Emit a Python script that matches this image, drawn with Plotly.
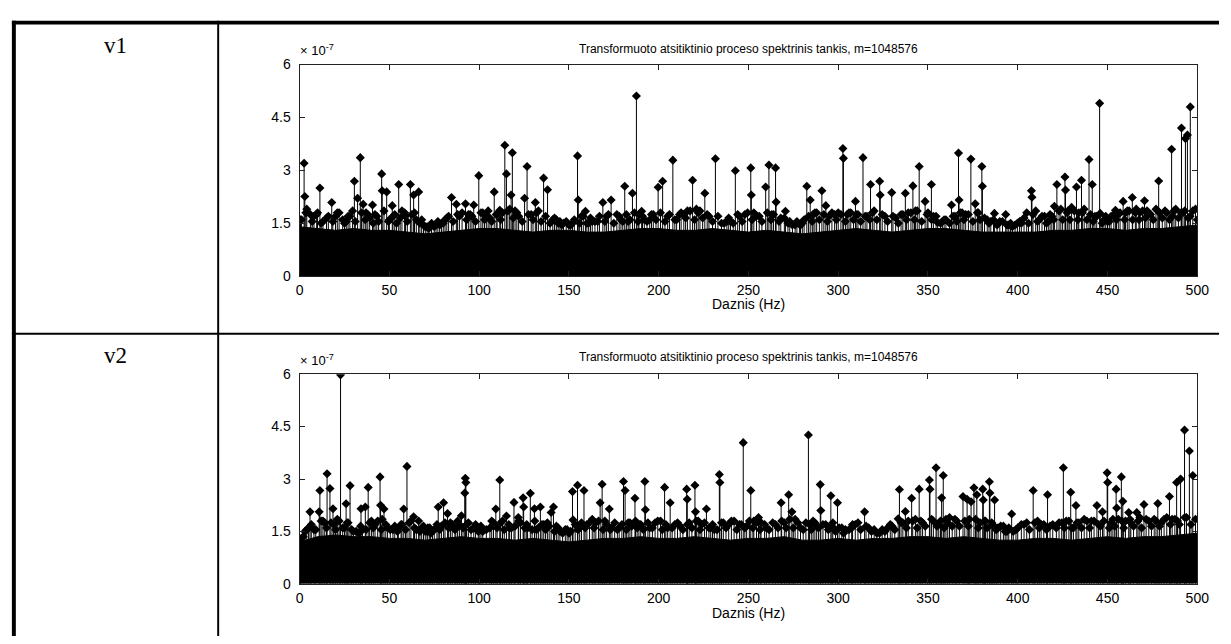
import plotly.graph_objects as go

W, H = 1231, 644

# Frequencies in Hz, spectral density values in units of 1e-7
X_TICKS = [0, 50, 100, 150, 200, 250, 300, 350, 400, 450, 500]
Y_TICKS = [0, 1.5, 3, 4.5, 6]
Y_TICK_TEXT = ["0", "1.5", "3", "4.5", "6"]
TITLE = "Transformuoto atsitiktinio proceso spektrinis tankis, m=1048576"
X_LABEL = "Daznis (Hz)"
ROW_LABELS = ["v1", "v2"]

# ---- v1 ----
v1_floor_hz = list(range(0, 501, 10))
v1_floor = [1.4, 1.35, 1.3, 1.35, 1.3, 1.3, 1.25, 1.2, 1.25, 1.3, 1.35, 1.35, 1.3, 1.25, 1.3,
            1.3, 1.25, 1.25, 1.3, 1.35, 1.35, 1.3, 1.3, 1.35, 1.3, 1.25, 1.3, 1.25, 1.2, 1.25,
            1.3, 1.35, 1.3, 1.25, 1.3, 1.35, 1.35, 1.3, 1.25, 1.25, 1.25, 1.25, 1.3, 1.3, 1.35,
            1.35, 1.3, 1.35, 1.35, 1.4, 1.45]

v1_low = [(0.5, 1.6), (3.5, 1.8), (7, 1.55), (9.5, 1.75), (12, 1.5), (16, 1.7), (18.5, 1.55),
          (21, 1.8), (25, 1.5), (27, 1.7), (29.5, 1.85), (31, 1.55), (34.5, 1.8), (36.5, 1.6),
          (38, 1.75), (41, 1.5), (43, 1.7), (47, 1.85), (49.5, 1.55), (52, 1.7), (54, 1.5),
          (56, 1.65), (58.5, 1.8), (60, 1.55), (62.5, 1.75), (65, 1.6), (67, 1.5), (69, 1.45),
          (71, 1.4), (73.5, 1.5), (76, 1.45), (77, 1.55), (79, 1.5), (81, 1.6), (83, 1.7),
          (85.5, 1.55), (88, 1.75), (90.5, 1.8), (93, 1.6), (95, 1.75), (98, 1.55), (101, 1.8),
          (103, 1.6), (105, 1.85), (107, 1.55), (109.5, 1.75), (112, 1.6), (116, 1.85),
          (119, 1.65), (121, 1.8), (124, 1.55), (127.5, 1.75), (130, 1.6), (132, 1.8),
          (134.5, 1.55), (137, 1.7), (139.5, 1.5), (142, 1.65), (144, 1.5), (146, 1.45),
          (148.5, 1.55), (151, 1.45), (153, 1.6), (156, 1.5), (158, 1.7), (160, 1.5),
          (162, 1.65), (164.5, 1.55), (167, 1.7), (170, 1.55), (172, 1.75), (175, 1.5),
          (178, 1.7), (180, 1.55), (182, 1.75), (184, 1.6), (186.5, 1.8), (188.5, 1.55),
          (191, 1.7), (193.5, 1.55), (196, 1.75), (198.5, 1.6), (201, 1.8), (203.5, 1.55),
          (206, 1.75), (209, 1.6), (212.5, 1.8), (215, 1.65), (217.5, 1.85), (220, 1.6),
          (222, 1.8), (224.5, 1.65), (227, 1.75), (230, 1.55), (233, 1.7), (236.5, 1.5),
          (239, 1.65), (241.5, 1.5), (244, 1.75), (246.5, 1.55), (249.5, 1.8), (252, 1.6),
          (254.5, 1.7), (257.5, 1.55), (260.5, 1.8), (262.5, 1.6), (264, 1.75), (267, 1.55),
          (270, 1.65), (272, 1.5), (274.5, 1.45), (277, 1.55), (279, 1.45), (281, 1.6),
          (283.5, 1.7), (285.5, 1.55), (287, 1.8), (289.5, 1.6), (292, 1.75), (294, 1.55),
          (296.5, 1.8), (299, 1.6), (301.5, 1.75), (304, 1.55), (306, 1.8), (308.5, 1.6),
          (310, 1.75), (312.5, 1.55), (315, 1.7), (317.5, 1.6), (319, 1.8), (321.5, 1.6),
          (324.5, 1.75), (327.5, 1.55), (330.5, 1.7), (333.5, 1.5), (336, 1.75), (338, 1.6),
          (340.5, 1.8), (342.5, 1.6), (344, 1.85), (346.5, 1.55), (349.5, 1.75), (352, 1.6),
          (354.5, 1.7), (357, 1.5), (359, 1.6), (362, 1.5), (364, 1.7), (366, 1.55),
          (368, 1.8), (370, 1.6), (372.5, 1.75), (375, 1.55), (377.5, 1.8), (379, 1.6),
          (381.5, 1.65), (384, 1.5), (386.5, 1.6), (388.5, 1.45), (391.5, 1.55), (394, 1.45),
          (396, 1.5), (398.5, 1.45), (401, 1.55), (403.5, 1.65), (406, 1.5), (408.5, 1.75),
          (411, 1.55), (413.5, 1.7), (416, 1.5), (418, 1.75), (420, 1.6), (423, 1.85),
          (425, 1.6), (427.5, 1.8), (429, 1.6), (431.5, 1.85), (433.5, 1.6), (436, 1.8),
          (438.5, 1.6), (440.5, 1.75), (442, 1.55), (444, 1.7), (447, 1.5), (449, 1.7),
          (451, 1.55), (453.5, 1.75), (455, 1.6), (457, 1.8), (459.5, 1.6), (461, 1.85),
          (464, 1.6), (465.5, 1.8), (467.5, 1.6), (469.5, 1.85), (471, 1.65), (473, 1.8),
          (475.5, 1.6), (478, 1.85), (480.5, 1.65), (483, 1.8), (484.5, 1.6), (487, 1.85),
          (489.5, 1.65), (492, 1.8), (495, 1.65), (497.5, 1.85), (500, 1.6)]

v1_mid = [(1, 1.6), (4, 1.9), (6, 1.75), (8, 1.7), (10, 1.8), (13, 1.55), (15, 1.65), (20, 1.7),
          (22, 1.8), (24, 1.6), (26, 1.55), (28, 1.7), (37, 1.8), (39, 1.65), (42, 1.75),
          (44, 1.55), (50, 1.6), (53, 1.75), (57, 1.85), (59, 1.7), (64, 1.8), (68, 1.6),
          (70, 1.4), (72, 1.35), (75, 1.4), (78, 1.45), (80, 1.5), (82, 1.65), (89, 1.7),
          (94, 1.75), (96, 1.7), (102, 1.8), (104, 1.7), (106, 1.65), (110, 1.75), (113, 1.8),
          (117, 1.9), (120, 1.85), (122, 1.7), (129, 1.75), (133, 1.85), (141, 1.6), (143, 1.6),
          (145, 1.55), (147, 1.5), (150, 1.45), (152, 1.5), (157, 1.7), (161, 1.5), (163, 1.55),
          (166, 1.55), (171, 1.7), (179, 1.6), (183, 1.55), (189, 1.75), (192, 1.6), (195, 1.6),
          (197, 1.75), (205, 1.7), (210, 1.6), (214, 1.75), (216, 1.85), (221, 1.9), (223, 1.85),
          (228, 1.7), (235, 1.5), (238, 1.55), (240, 1.55), (245, 1.7), (248, 1.75), (253, 1.8),
          (256, 1.7), (263, 1.75), (268, 1.65), (273, 1.55), (276, 1.45), (280, 1.5), (286, 1.75),
          (288, 1.8), (295, 1.7), (298, 1.75), (300, 1.8), (305, 1.75), (307, 1.8), (311, 1.75),
          (316, 1.7), (320, 1.85), (326, 1.7), (332, 1.65), (335, 1.75), (339, 1.8), (343, 1.85),
          (350, 1.8), (353, 1.7), (358, 1.55), (360, 1.6), (365, 1.7), (369, 1.8), (371, 1.75),
          (378, 1.8), (383, 1.6), (385, 1.55), (390, 1.55), (395, 1.45), (397, 1.4), (402, 1.5),
          (405, 1.8), (410, 1.85), (412, 1.6), (417, 1.55), (419, 1.7), (424, 1.9), (428, 1.85),
          (430, 1.95), (434, 1.8), (437, 1.9), (443, 1.7), (448, 1.6), (450, 1.55), (452, 1.7),
          (456, 1.75), (460, 1.8), (462, 1.85), (466, 1.9), (468, 1.8), (472, 1.85), (474, 1.75),
          (477, 1.9), (479, 1.8), (482, 1.85), (486, 1.7), (488, 1.9), (491, 1.8), (493, 1.85),
          (496, 1.7), (499, 1.9)]

v1_peaks = [(2.5, 3.2), (2.9, 2.26), (11.3, 2.5), (17.9, 2.09), (30.5, 2.69), (32.3, 2.21),
            (33.8, 3.36), (35.4, 2.04), (40.6, 2.02), (45.7, 2.9), (46.0, 2.42), (48.5, 2.39),
            (51.6, 2.0), (55.2, 2.6), (61.7, 2.6), (63.5, 2.3), (66.3, 2.39), (84.6, 2.23),
            (87.3, 2.04), (92.4, 2.05), (97.0, 2.02), (99.8, 2.85), (108.4, 2.39), (111.5, 1.87),
            (114.3, 3.71), (115.2, 2.9), (118.5, 3.5), (117.8, 2.3), (125.3, 2.21), (126.7, 3.11),
            (131.3, 2.09), (135.9, 2.78), (138.1, 2.45), (154.8, 3.41), (155.2, 2.16),
            (159.2, 1.84), (168.9, 2.09), (173.5, 2.16), (176.7, 1.75), (181.1, 2.55),
            (185.4, 2.35), (187.6, 5.11), (190.5, 1.84), (199.7, 2.52), (202.2, 2.69),
            (207.9, 3.29), (211.6, 1.75), (218.9, 2.72), (225.7, 2.35), (231.6, 3.33),
            (242.7, 2.99), (251.3, 3.07), (251.6, 2.3), (259.6, 2.53), (261.4, 3.15),
            (265.1, 3.07), (265.4, 2.1), (270.6, 1.84), (278.4, 1.47), (282.5, 2.55),
            (284.4, 2.16), (290.9, 2.42), (293.1, 2.0), (302.6, 3.62), (302.9, 3.34),
            (309.6, 2.12), (313.8, 3.36), (318.0, 2.6), (323.1, 2.69), (323.4, 2.3),
            (329.8, 2.37), (337.4, 2.35), (341.6, 2.56), (345.1, 3.11), (348.4, 2.12),
            (351.9, 2.6), (355.4, 1.52), (363.1, 2.02), (367.0, 3.49), (367.3, 2.16),
            (373.9, 3.32), (376.3, 2.05), (380.0, 3.11), (380.3, 2.55), (387.0, 1.78),
            (393.3, 1.75), (399.8, 1.5), (407.6, 2.42), (407.9, 2.24), (414.9, 1.7),
            (420.4, 1.98), (421.8, 2.6), (426.3, 2.81), (426.6, 2.44), (432.7, 2.53),
            (435.5, 2.72), (439.7, 3.31), (441.5, 2.6), (445.6, 4.9), (445.9, 1.78),
            (454.4, 1.87), (458.7, 2.12), (463.8, 2.23), (470.6, 2.14), (478.5, 2.7),
            (485.7, 3.6), (491.2, 4.2), (493.4, 3.9), (494.5, 4.0), (496.1, 4.8)]

# ---- v2 ----
v2_floor_hz = list(range(0, 501, 10))
v2_floor = [1.2, 1.35, 1.4, 1.35, 1.35, 1.3, 1.3, 1.25, 1.3, 1.35, 1.3, 1.3, 1.25, 1.3, 1.25,
            1.2, 1.25, 1.3, 1.3, 1.35, 1.3, 1.3, 1.35, 1.3, 1.25, 1.3, 1.3, 1.35, 1.25, 1.25,
            1.3, 1.25, 1.3, 1.3, 1.35, 1.35, 1.3, 1.35, 1.3, 1.25, 1.25, 1.3, 1.3, 1.25, 1.3,
            1.35, 1.3, 1.35, 1.35, 1.4, 1.45]

v2_low = [(0.5, 1.1), (2, 1.35), (4, 1.55), (6.5, 1.7), (9, 1.55), (13, 1.8), (15, 1.6),
          (17.5, 1.75), (20, 1.55), (22, 1.8), (25, 1.6), (26.5, 1.75), (29, 1.55), (31.5, 1.5),
          (34, 1.65), (37, 1.55), (39, 1.75), (41, 1.6), (43.5, 1.8), (45.5, 1.55), (48, 1.7),
          (50.5, 1.55), (53, 1.65), (54.5, 1.5), (56.5, 1.7), (59, 1.55), (62, 1.8), (64, 1.6),
          (67, 1.5), (69, 1.65), (71, 1.5), (72.5, 1.6), (74, 1.5), (76.5, 1.7), (78, 1.55),
          (81, 1.75), (83, 1.6), (85, 1.7), (86.5, 1.55), (88, 1.8), (91, 1.6), (93, 1.7),
          (95.5, 1.55), (98, 1.7), (99.5, 1.5), (101, 1.65), (104, 1.55), (107, 1.8), (110, 1.6),
          (112, 1.75), (114, 1.55), (116.5, 1.7), (118, 1.6), (122, 1.8), (125.5, 1.6),
          (126.5, 1.7), (129.5, 1.55), (131, 1.8), (133, 1.6), (135, 1.7), (137, 1.55),
          (139, 1.65), (142, 1.5), (144, 1.6), (146.5, 1.45), (149, 1.55), (151, 1.5),
          (153.5, 1.7), (155, 1.55), (157, 1.75), (159, 1.6), (161.5, 1.75), (164, 1.6),
          (166.5, 1.8), (169, 1.55), (171, 1.7), (173, 1.55), (175.5, 1.75), (178, 1.6),
          (179.5, 1.7), (182, 1.55), (184, 1.75), (188, 1.6), (190, 1.7), (191.5, 1.55),
          (194, 1.75), (196.5, 1.6), (199.5, 1.8), (202, 1.55), (204, 1.7), (207.5, 1.6),
          (210.5, 1.75), (213.5, 1.55), (216, 1.7), (218.5, 1.6), (221, 1.8), (223, 1.55),
          (225.5, 1.75), (228, 1.6), (230, 1.7), (232.5, 1.55), (235, 1.75), (237.5, 1.6),
          (240.5, 1.8), (243.5, 1.55), (246, 1.7), (248, 1.6), (250.5, 1.8), (252.5, 1.6),
          (254.5, 1.75), (256.5, 1.55), (259, 1.7), (261.5, 1.55), (263.5, 1.75), (266.5, 1.6),
          (268.5, 1.8), (271, 1.6), (273, 1.85), (275, 1.6), (277.5, 1.75), (280.5, 1.55),
          (284, 1.7), (285, 1.55), (287, 1.75), (289, 1.6), (291.5, 1.7), (294.5, 1.55),
          (296.5, 1.65), (298.5, 1.5), (300.5, 1.6), (303, 1.45), (306, 1.55), (307.5, 1.6),
          (309.5, 1.7), (312.5, 1.55), (315.5, 1.65), (318.5, 1.5), (321.5, 1.45), (324.5, 1.55),
          (327.5, 1.6), (329, 1.7), (331.5, 1.55), (335, 1.75), (338, 1.6), (341.5, 1.8),
          (344, 1.6), (346, 1.8), (348.5, 1.65), (352, 1.85), (355, 1.65), (357, 1.8),
          (359, 1.6), (361, 1.75), (363.5, 1.65), (365, 1.85), (367.5, 1.65), (370.5, 1.8),
          (372.5, 1.65), (376.5, 1.85), (378, 1.6), (381.5, 1.8), (383, 1.6), (385.5, 1.75),
          (388, 1.55), (390.5, 1.65), (393, 1.5), (395, 1.6), (397.5, 1.5), (400, 1.6),
          (403.5, 1.7), (406.5, 1.55), (409.5, 1.75), (412, 1.6), (414.5, 1.7), (416, 1.55),
          (419.5, 1.7), (421.5, 1.6), (424.5, 1.75), (426, 1.6), (428.5, 1.8), (430, 1.6),
          (433, 1.75), (435.5, 1.6), (438.5, 1.8), (440, 1.6), (442.5, 1.8), (446, 1.65),
          (448, 1.8), (451, 1.6), (453, 1.85), (454, 1.65), (458, 1.8), (459, 1.6),
          (462.5, 1.85), (464.5, 1.65), (467, 1.8), (469, 1.6), (471.5, 1.85), (474.5, 1.65),
          (477, 1.8), (479, 1.65), (481.5, 1.85), (485, 1.7), (487.5, 1.85), (490, 1.7),
          (494, 1.9), (496.5, 1.7), (499, 1.85)]

v2_mid = [(1, 1.3), (3, 1.5), (5, 1.6), (8, 1.55), (12, 1.8), (14, 1.75), (19, 1.7), (21, 1.85),
          (24, 1.6), (27, 1.75), (30, 1.5), (33, 1.45), (35, 1.55), (40, 1.8), (42, 1.7),
          (46, 1.85), (49, 1.6), (52, 1.55), (55, 1.6), (57, 1.7), (61, 1.75), (65, 1.55),
          (68, 1.6), (70, 1.5), (73, 1.45), (75, 1.55), (79, 1.65), (84, 1.75), (87, 1.6),
          (89, 1.7), (94, 1.75), (97, 1.6), (100, 1.55), (102, 1.5), (106, 1.6), (108, 1.75),
          (113, 1.8), (117, 1.6), (120, 1.65), (123, 1.75), (127, 1.6), (132, 1.55), (136, 1.7),
          (138, 1.75), (143, 1.65), (145, 1.5), (148, 1.55), (150, 1.45), (156, 1.6), (160, 1.7),
          (165, 1.75), (170, 1.8), (174, 1.6), (177, 1.55), (183, 1.75), (185, 1.65), (189, 1.7),
          (195, 1.6), (198, 1.75), (201, 1.8), (205, 1.6), (209, 1.7), (212, 1.65), (217, 1.75),
          (222, 1.8), (224, 1.7), (229, 1.6), (231, 1.55), (236, 1.75), (239, 1.7), (242, 1.8),
          (245, 1.7), (249, 1.65), (253, 1.8), (257, 1.75), (260, 1.6), (265, 1.7), (270, 1.75),
          (276, 1.85), (279, 1.6), (282, 1.75), (286, 1.8), (288, 1.65), (293, 1.7), (297, 1.75),
          (302, 1.6), (304, 1.55), (308, 1.7), (311, 1.75), (317, 1.6), (320, 1.55), (323, 1.45),
          (326, 1.5), (330, 1.65), (336, 1.75), (339, 1.8), (343, 1.85), (347, 1.75), (353, 1.8),
          (356, 1.7), (360, 1.85), (362, 1.9), (366, 1.8), (373, 1.85), (379, 1.75), (382, 1.8),
          (386, 1.7), (389, 1.6), (392, 1.65), (394, 1.5), (399, 1.55), (402, 1.7), (405, 1.75),
          (411, 1.8), (413, 1.7), (418, 1.65), (423, 1.75), (427, 1.8), (431, 1.6), (434, 1.75),
          (437, 1.85), (441, 1.8), (445, 1.7), (452, 1.75), (456, 1.85), (460, 1.8), (463, 1.75),
          (468, 1.9), (473, 1.8), (476, 1.85), (480, 1.75), (483, 1.9), (486, 1.85), (489, 1.8),
          (493, 1.9)]

v2_peaks = [(22.8, 5.98), (15.3, 3.15), (11.3, 2.67), (16.9, 2.73), (5.8, 2.06), (10.9, 2.06),
            (18.6, 2.15), (25.9, 2.29), (28.1, 2.81), (34.2, 2.15), (36.6, 2.2), (38.2, 2.76),
            (44.8, 3.06), (45.1, 2.25), (47.0, 2.14), (58.0, 2.14), (59.8, 3.36), (63.5, 1.92),
            (66.3, 1.8), (71.4, 1.6), (77.2, 2.2), (80.2, 2.32), (82.4, 2.01), (92.3, 3.02),
            (92.6, 2.9), (92.0, 2.6), (90.1, 1.95), (109.3, 2.14), (111.5, 2.97), (115.2, 1.94),
            (119.4, 2.33), (121.8, 1.9), (124.5, 2.46), (124.8, 2.2), (128.5, 2.59),
            (130.8, 2.15), (134.1, 2.2), (140.1, 2.04), (141.4, 2.2), (152.0, 2.64),
            (152.3, 1.83), (154.8, 2.82), (158.4, 2.67), (163.0, 1.85), (167.4, 2.32),
            (168.5, 2.85), (172.5, 2.14), (180.4, 2.93), (181.3, 2.67), (186.8, 2.45),
            (187.1, 1.8), (192.3, 2.93), (192.6, 2.12), (203.3, 2.76), (206.4, 2.32),
            (215.6, 2.71), (215.9, 2.42), (220.2, 2.82), (220.5, 2.06), (226.6, 2.14),
            (233.8, 3.13), (234.1, 2.9), (247.1, 4.04), (251.3, 2.67), (255.6, 1.9),
            (268.2, 2.32), (272.4, 2.55), (274.2, 2.06), (283.4, 4.26), (290.0, 2.84),
            (290.3, 2.1), (295.9, 2.52), (299.6, 2.32), (314.7, 2.06), (333.4, 1.86),
            (334.1, 2.7), (337.4, 2.07), (340.9, 2.45), (345.1, 2.71), (350.8, 2.97),
            (351.1, 2.71), (354.5, 3.32), (358.5, 3.1), (357.6, 2.46), (369.5, 2.5),
            (371.8, 2.42), (374.0, 2.35), (375.6, 2.75), (377.2, 2.55), (380.5, 2.71),
            (380.8, 2.4), (384.2, 2.92), (384.5, 2.6), (387.1, 2.4), (396.6, 2.0),
            (408.6, 2.67), (416.6, 2.55), (425.4, 3.32), (429.5, 2.62), (432.4, 2.24),
            (444.1, 2.24), (447.2, 2.06), (449.8, 3.18), (450.1, 2.9), (454.8, 2.71),
            (455.1, 2.17), (457.7, 3.06), (458.5, 2.36), (461.8, 2.04), (466.3, 2.04),
            (470.3, 2.27), (478.0, 2.3), (484.5, 2.5), (488.5, 2.9), (490.7, 3.0),
            (492.9, 4.4), (495.6, 3.8), (497.5, 3.1)]

# ---- geometry (pixels) ----
PLOT_X0, PLOT_X1 = 299.5, 1209
PANELS = [
    dict(top=58, bottom=275, title_y=42, xlab_y=304, label_y=38),
    dict(top=375.5, bottom=590.5, title_y=358, xlab_y=620, label_y=356),
]
FONT = "Liberation Sans, Arial, sans-serif"
SERIF = "Liberation Serif, Times New Roman, serif"


def px_x(p):
    return p / W


def px_y(p):
    return 1 - p / H


def stems(pairs):
    xs, ys = [], []
    for f, v in pairs:
        xs += [f, f, None]
        ys += [0, v, None]
    return xs, ys


fig = go.Figure()
data_sets = [
    (v1_floor_hz, v1_floor, [v1_low, v1_mid, v1_peaks]),
    (v2_floor_hz, v2_floor, [v2_low, v2_mid, v2_peaks]),
]

for i, (fh, fv, groups) in enumerate(data_sets):
    xa = "x" if i == 0 else "x2"
    ya = "y" if i == 0 else "y2"
    fig.add_trace(go.Scatter(x=fh, y=fv, mode="lines", fill="tozeroy", fillcolor="black",
                             line=dict(color="black", width=1), xaxis=xa, yaxis=ya,
                             hoverinfo="skip", showlegend=False))
    for pairs in groups:
        sx, sy = stems(pairs)
        fig.add_trace(go.Scatter(x=sx, y=sy, mode="lines", line=dict(color="black", width=1),
                                 xaxis=xa, yaxis=ya, hoverinfo="skip", showlegend=False))
        fig.add_trace(go.Scatter(x=[p[0] for p in pairs], y=[p[1] for p in pairs],
                                 mode="markers",
                                 marker=dict(symbol="diamond", size=7, color="black"),
                                 xaxis=xa, yaxis=ya, showlegend=False))

axis_common = dict(showline=True, linecolor="#222", linewidth=1, mirror="ticks", ticks="inside",
                   ticklen=5, tickcolor="#222", showgrid=False, zeroline=False,
                   tickfont=dict(family=FONT, size=14, color="black"))
layout = dict(width=W, height=H, margin=dict(l=0, r=0, t=0, b=0), paper_bgcolor="white",
              plot_bgcolor="white", showlegend=False)
annotations = []
shapes = []


def label(text, x, y, size, family=FONT, xanchor="center"):
    return dict(text=text, x=px_x(x), y=px_y(y), xref="paper", yref="paper", showarrow=False,
                xanchor=xanchor, yanchor="middle",
                font=dict(family=family, size=size, color="black"))


for i, p in enumerate(PANELS):
    sfx = "" if i == 0 else "2"
    layout["xaxis" + sfx] = dict(axis_common, domain=[px_x(PLOT_X0), px_x(PLOT_X1)],
                                 range=[0, 500], tickvals=X_TICKS, anchor="y" + sfx,
                                 ticklabelstandoff=1)
    layout["yaxis" + sfx] = dict(axis_common, domain=[px_y(p["bottom"]), px_y(p["top"])],
                                 range=[0, 6], tickvals=Y_TICKS, ticktext=Y_TICK_TEXT,
                                 anchor="x" + sfx, ticklabelstandoff=5)
    mid = (PLOT_X0 + PLOT_X1) / 2
    annotations.append(label(TITLE, mid, p["title_y"], 12))
    annotations.append(label(X_LABEL, mid, p["xlab_y"], 14))
    annotations.append(label("\u00d7 10<sup>-7</sup>", PLOT_X0 - 2, p["top"] - 15, 13,
                             xanchor="left"))
    annotations.append(label(ROW_LABELS[i], 113, p["label_y"], 23, family=SERIF))

# table rules
for x0, y0, x1, y1 in [(8, 13, 1231, 17), (8, 13, 12, 644), (216, 13, 218, 644),
                       (8, 333, 1231, 335)]:
    shapes.append(dict(type="rect", xref="paper", yref="paper", x0=px_x(x0), x1=px_x(x1),
                       y0=px_y(y1), y1=px_y(y0), fillcolor="black", line=dict(width=0)))

layout["annotations"] = annotations
layout["shapes"] = shapes
fig.update_layout(**layout)
# keep the page free of the default body margin so the figure fills the window exactly
fig.write_html("out.html",
               post_script="document.body.style.margin='0';document.body.style.overflow='hidden';")
